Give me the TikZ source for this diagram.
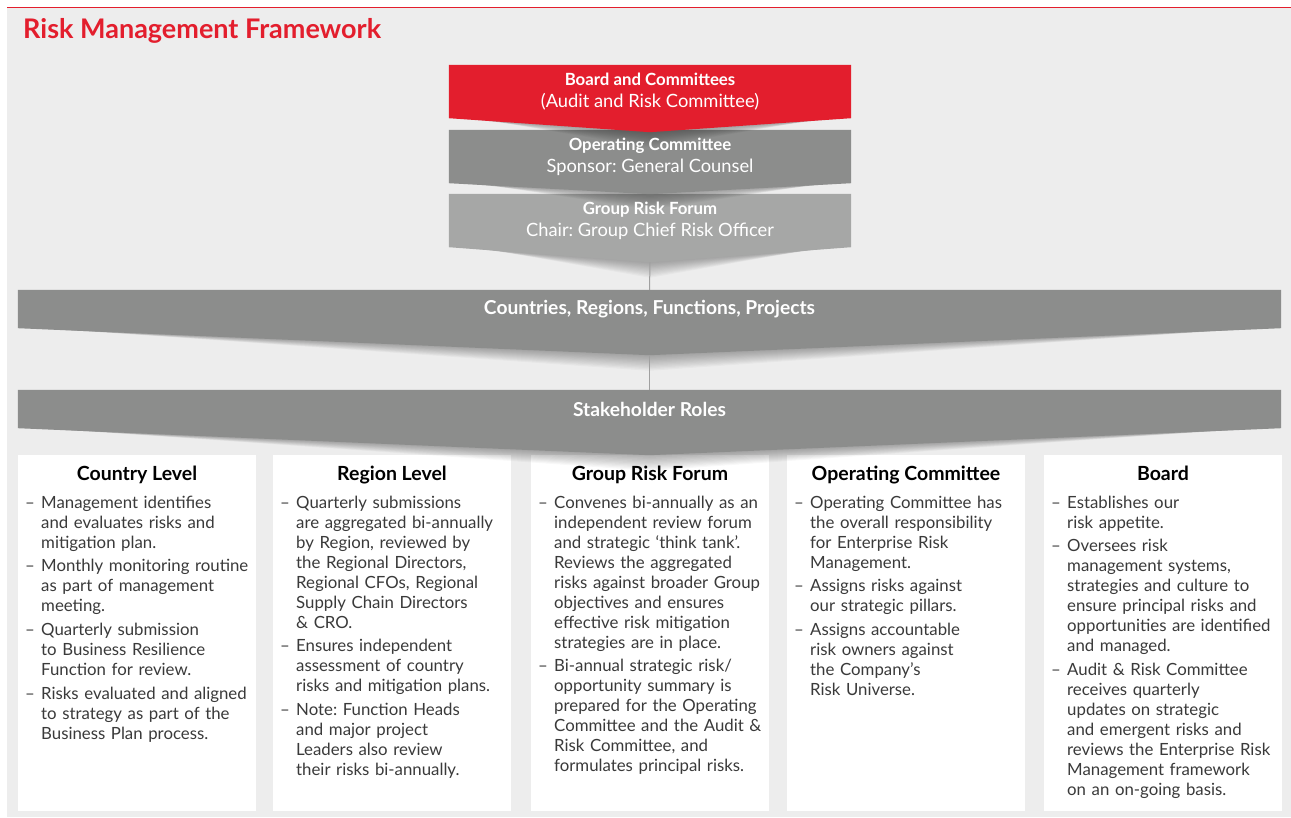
\documentclass[tikz,border=0pt]{standalone}
\usepackage{fontspec}
\setmainfont{Lato}
\frenchspacing
\usetikzlibrary{calc}
\definecolor{rmred}{HTML}{E31E2D}
\definecolor{rmbg}{HTML}{EDEDED}
\definecolor{rmgrey}{HTML}{8C8D8C}
\definecolor{rmlight}{HTML}{A6A7A6}
\definecolor{rmtext}{HTML}{3A3A3A}
\definecolor{rmline}{HTML}{A0A0A0}
\pgfdeclarelayer{bg}
\pgfsetlayers{bg,main}
\newcommand{\rmitem}[1]{\par\begingroup\let\\\newline\hangindent=16pt\hangafter=1\noindent\makebox[16pt][l]{–}#1\par\endgroup\vspace{3.7pt}}
\newcommand{\rmchev}[3]{%
  \foreach \k in {1,...,12} {\fill[black,opacity=0.028] ($(#1.south west)+(4+2*\k,0)$) -- ($(#1.south)+(0,#2+\k*1.3)$) -- ($(#1.south east)+(-4-2*\k,0)$) -- cycle;}
  \fill[#3] (#1.north west) -- (#1.north east) -- (#1.south east) -- ($(#1.south)+(0,#2)$) -- (#1.south west) -- cycle;}
\tikzset{
  chevtext/.style={text=white, align=center, inner sep=0pt, minimum width=402pt, minimum height=53pt, font=\fontsize{18.3}{22}\selectfont},
  bartext/.style={text=white, font=\bfseries\fontsize{19.2}{22}\selectfont, inner sep=0pt, minimum width=1263pt, minimum height=38pt},
  colbox/.style={fill=white, inner sep=0pt, minimum width=238pt, minimum height=356pt, anchor=north west},
  colhead/.style={font=\bfseries\fontsize{19.5}{22}\selectfont, text=black, anchor=base},
  colbody/.style={font=\fontsize{16.8}{20}\selectfont, text=rmtext, text width=240pt, align=left, inner sep=0pt, anchor=north west},
  link/.style={draw=rmline, line width=1pt},
}
\begin{document}
\begin{tikzpicture}[x=1pt,y=-1pt]
\useasboundingbox (0,0) rectangle (1291,817);
% title
\node[anchor=base west, inner sep=0pt, font=\bfseries\fontsize{27}{30}\selectfont, text=rmred] (title) at (23,38) {Risk Management Framework};
% top stack
\node[chevtext] (board) at (650,91.5) {\textbf{\fontsize{16.8}{22}\selectfont Board and Committees}\\(Audit and Risk Committee)};
\node[chevtext] (oc) at (650,156.5) {\textbf{\fontsize{16.8}{22}\selectfont Operating Committee}\\Sponsor: General Counsel};
\node[chevtext] (grf) at (650,220.5) {\textbf{\fontsize{16.8}{22}\selectfont Group Risk Forum}\\Chair: Group Chief Risk Officer};
\coordinate (grftip) at ($(grf.south)+(0,15)$);
% bars
\node[bartext] (cbar) at (649.5,309) {Countries, Regions, Functions, Projects};
\coordinate (cbartip) at ($(cbar.south)+(0,27)$);
\node[bartext] (sbar) at (649.5,409) {Stakeholder Roles};
% columns
\begin{pgfonlayer}{bg}
\fill[rmbg] (7,8) rectangle (1291,817);
\draw[rmred, line width=1pt] (7,7.5) -- (1291,7.5);
\node[colbox] (c1) at (18,455) {};
\node[colbox] (c2) at (273,455) {};
\node[colbox] (c3) at (531,455) {};
\node[colbox] (c4) at (787,455) {};
\node[colbox] (c5) at (1044,455) {};
\rmchev{sbar}{27}{rmgrey}
\rmchev{cbar}{27}{rmgrey}
\rmchev{grf}{15}{rmlight}
\rmchev{oc}{11}{rmgrey}
\rmchev{board}{14}{rmred}
\draw[link] (grftip) -- (cbar.north);
\draw[link] (cbartip) -- (sbar.north);
\end{pgfonlayer}
% headings
\node[colhead] (h1) at (137,480) {Country Level};
\node[colhead] (h2) at (392,480) {Region Level};
\node[colhead] (h3) at (650,480) {Group Risk Forum};
\node[colhead] (h4) at (906,480) {Operating Committee};
\node[colhead] (h5) at (1163,480) {Board};
% bodies
\node[colbody] (b1) at (25,488) {%
\rmitem{Management identifies\\and evaluates risks and\\mitigation plan.}
\rmitem{Monthly monitoring routine\\as part of management\\meeting.}
\rmitem{Quarterly submission\\to Business Resilience\\Function for review.}
\rmitem{Risks evaluated and aligned\\to strategy as part of the\\Business Plan process.}};
\node[colbody] (b2) at (280,488) {%
\rmitem{Quarterly submissions\\are aggregated bi-annually\\by Region, reviewed by\\the Regional Directors,\\Regional CFOs, Regional\\Supply Chain Directors\\\& CRO.}
\rmitem{Ensures independent\\assessment of country\\risks and mitigation plans.}
\rmitem{Note: Function Heads\\and major project\\Leaders also review\\their risks bi-annually.}};
\node[colbody] (b3) at (538,488) {%
\rmitem{Convenes bi-annually as an\\independent review forum\\and strategic ‘think tank’.\\Reviews the aggregated\\risks against broader Group\\objectives and ensures\\effective risk mitigation\\strategies are in place.}
\rmitem{Bi-annual strategic risk/\\opportunity summary is\\prepared for the Operating\\Committee and the Audit \&\\Risk Committee, and\\formulates principal risks.}};
\node[colbody] (b4) at (794,488) {%
\rmitem{Operating Committee has\\the overall responsibility\\for Enterprise Risk\\Management.}
\rmitem{Assigns risks against\\our strategic pillars.}
\rmitem{Assigns accountable\\risk owners against\\the Company’s\\Risk Universe.}};
\node[colbody] (b5) at (1051,488) {%
\rmitem{Establishes our\\risk appetite.}
\rmitem{Oversees risk\\management systems,\\strategies and culture to\\ensure principal risks and\\opportunities are identified\\and managed.}
\rmitem{Audit \& Risk Committee\\receives quarterly\\updates on strategic\\and emergent risks and\\reviews the Enterprise Risk\\Management framework\\on an on-going basis.}};
\end{tikzpicture}
\end{document}
